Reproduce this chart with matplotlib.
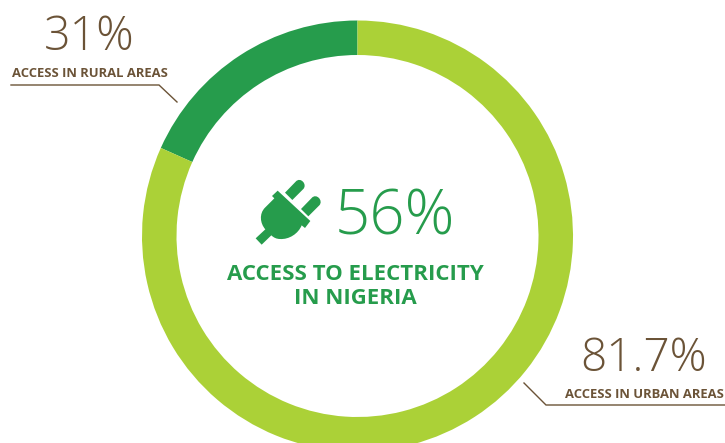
import matplotlib
matplotlib.use("Agg")
import matplotlib.pyplot as plt
from matplotlib.path import Path
from matplotlib.patches import PathPatch
from matplotlib import font_manager as fm

# Share of the population with access to electricity
segment_names = ["Rural gap", "Urban access"]
segment_values = [18.3, 81.7]
headline = "56%"
headline_label = "ACCESS TO ELECTRICITY\nIN NIGERIA"
rural_value = "31%"
rural_label = "ACCESS IN RURAL AREAS"
urban_value = "81.7%"
urban_label = "ACCESS IN URBAN AREAS"

DARK_GREEN = "#269c4c"
LIGHT_GREEN = "#abd137"
BROWN = "#6b5337"
W, H = 725, 443


def light(size):
    return fm.FontProperties(family="Open Sans", weight="light", size=size)


def bold(size):
    return fm.FontProperties(family="Open Sans", weight="bold", size=size)


fig = plt.figure(figsize=(W / 100, H / 100), dpi=100)
ax = fig.add_axes([0, 0, 1, 1])

radius = 215.5
hole = 181.0
ax.pie(
    segment_values,
    colors=[DARK_GREEN, LIGHT_GREEN],
    startangle=90,
    counterclock=True,
    center=(357.5, H - 236),
    radius=radius,
    wedgeprops=dict(width=radius - hole, linewidth=0),
)
ax.set_xlim(0, W)
ax.set_ylim(0, H)
ax.set_aspect("equal")
ax.axis("off")


def px(x, y):
    """Top-left pixel position to axes data coordinates."""
    return x, H - y


def icon(zx, zy):
    """Position inside the plug icon's 75x75 frame, drawn at 3x scale."""
    return px(255 + zx / 3, 175 + zy / 3)


M, L, C, Z = Path.MOVETO, Path.LINETO, Path.CURVE4, Path.CLOSEPOLY


def add_icon_shape(steps):
    verts = [icon(*p) for _, p in steps]
    codes = [c for c, _ in steps]
    ax.add_patch(PathPatch(Path(verts, codes), facecolor=DARK_GREEN, edgecolor="none"))


# Plug icon: flange, body and cord as one outline
add_icon_shape([
    (M, (68, 47)), (L, (166, 138)), (L, (150, 159)), (L, (140, 151)),
    (C, (130, 176)), (C, (102, 194)), (C, (75, 192)),
    (C, (65, 192)), (C, (56, 188)), (C, (49, 181)),
    (L, (20, 209)), (L, (2, 190)), (L, (31, 163)),
    (C, (15, 145)), (C, (12, 116)), (C, (30, 98)),
    (L, (58, 70)), (L, (51, 63)), (Z, (68, 47)),
])
# Two prongs with rounded tips, set just clear of the flange
for dx, dy in [(0, 0), (48, 49)]:
    add_icon_shape([
        (M, (90 + dx, 53 + dy)), (L, (112 + dx, 75 + dy)), (L, (145 + dx, 42 + dy)),
        (C, (158 + dx, 28 + dy)), (C, (136 + dx, 4 + dy)), (C, (122 + dx, 20 + dy)),
        (Z, (90 + dx, 53 + dy)),
    ])

# Central figure and caption
x, y = px(395, 218)
ax.text(x, y, headline, color=DARK_GREEN, ha="center", va="center",
        fontproperties=light(44.5))
x, y = px(355, 286.5)
ax.text(x, y, headline_label, color=DARK_GREEN, ha="center", va="center",
        fontproperties=bold(16), linespacing=1.16)

# Rural callout
x, y = px(89, 38)
ax.text(x, y, rural_value, color=BROWN, ha="center", va="center", fontproperties=light(33.5))
x, y = px(89.5, 73)
ax.text(x, y, rural_label, color=BROWN, ha="center", va="center", fontproperties=bold(9.4))
rx, ry = zip(px(11, 85), px(159, 85), px(177, 102))
ax.plot(rx, ry, color=BROWN, lw=1, solid_joinstyle="miter")

# Urban callout
x, y = px(643.5, 359)
ax.text(x, y, urban_value, color=BROWN, ha="center", va="center", fontproperties=light(33))
x, y = px(644.5, 394)
ax.text(x, y, urban_label, color=BROWN, ha="center", va="center", fontproperties=bold(9.4))
ux, uy = zip(px(524, 383), px(546, 405), px(725, 405))
ax.plot(ux, uy, color=BROWN, lw=1, solid_joinstyle="miter")

fig.savefig("out.png", dpi=100, facecolor="white")
